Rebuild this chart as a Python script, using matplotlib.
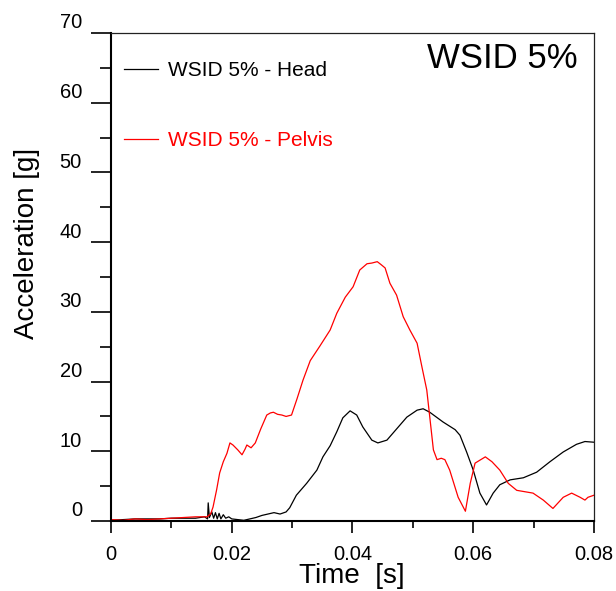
import matplotlib
matplotlib.use("Agg")
import matplotlib.pyplot as plt
from matplotlib.ticker import MultipleLocator
from matplotlib.transforms import ScaledTranslation

plt.rcParams['font.family'] = ['Liberation Sans', 'DejaVu Sans']

# head acceleration trace
head_t = [0, 0.002, 0.004, 0.006, 0.008, 0.010, 0.012, 0.014, 0.0155, 0.016,
          0.0161, 0.0163, 0.0167, 0.0170, 0.0173, 0.0176, 0.0179, 0.0182, 0.0186, 0.019,
          0.0195, 0.020, 0.021, 0.022, 0.023, 0.024, 0.025, 0.026, 0.027, 0.028,
          0.029, 0.0296, 0.0307, 0.0324, 0.0341, 0.0351, 0.0363, 0.0374, 0.0384, 0.0396,
          0.0407, 0.0417, 0.0432, 0.0442, 0.0457, 0.0474, 0.049, 0.0507, 0.0517, 0.0528,
          0.055, 0.057, 0.0578, 0.0589, 0.06, 0.0611, 0.0622, 0.0633, 0.0644, 0.0661,
          0.0683, 0.0705, 0.0727, 0.0749, 0.0771, 0.0785, 0.08]
head_g = [0.1, 0.2, 0.3, 0.3, 0.3, 0.4, 0.4, 0.4, 0.6, 0.3,
          2.6, 0.5, 1.3, 0.4, 1.2, 0.3, 1.1, 0.3, 0.9, 0.4,
          0.6, 0.3, 0.2, 0.1, 0.3, 0.5, 0.8, 1.0, 1.2, 1.0,
          1.3, 1.9, 3.7, 5.4, 7.3, 9.2, 10.8, 12.8, 14.8, 15.8,
          15.2, 13.5, 11.6, 11.2, 11.6, 13.3, 14.9, 15.9, 16.1, 15.6,
          14.2, 13.1, 12.3, 9.9, 7.3, 4.0, 2.3, 4.0, 5.2, 5.9,
          6.2, 7.0, 8.5, 9.9, 11.0, 11.4, 11.3]

# pelvis acceleration trace
pelvis_t = [0, 0.002, 0.004, 0.006, 0.008, 0.010, 0.012, 0.014, 0.0159, 0.0165,
            0.0169, 0.0175, 0.018, 0.0186, 0.0192, 0.0197, 0.0202, 0.021, 0.0217, 0.0222,
            0.0225, 0.0232, 0.0239, 0.0248, 0.0258, 0.0264, 0.0269, 0.0276, 0.0283, 0.029,
            0.0299, 0.0308, 0.0318, 0.033, 0.0346, 0.0363, 0.0374, 0.0388, 0.0401, 0.0412,
            0.0424, 0.0432, 0.0441, 0.0447, 0.0454, 0.0462, 0.0473, 0.0484, 0.0495, 0.0507,
            0.0515, 0.0523, 0.0528, 0.0534, 0.054, 0.0547, 0.0553, 0.0561, 0.0575, 0.0587,
            0.0595, 0.0603, 0.062, 0.0631, 0.0644, 0.0658, 0.0672, 0.0699, 0.0716, 0.0732,
            0.0749, 0.0763, 0.0777, 0.0785, 0.079, 0.08]
pelvis_g = [0.2, 0.1, 0.3, 0.2, 0.3, 0.4, 0.5, 0.6, 0.6, 1.0,
            2.0, 4.5, 6.9, 8.5, 9.7, 11.2, 10.9, 10.2, 9.5, 10.3,
            10.9, 10.5, 11.2, 13.2, 15.2, 15.5, 15.6, 15.3, 15.2, 15.0,
            15.2, 17.5, 20.2, 23.0, 25.1, 27.4, 29.8, 32.1, 33.6, 36.0,
            36.9, 37.0, 37.2, 36.8, 36.3, 34.1, 32.4, 29.3, 27.4, 25.5,
            22.1, 18.8, 14.9, 10.2, 8.8, 9.0, 8.8, 7.3, 3.4, 1.4,
            5.4, 8.3, 9.2, 8.5, 7.3, 5.4, 4.4, 4.0, 3.0, 1.8,
            3.4, 4.0, 3.4, 3.0, 3.4, 3.7]

x_ticks = [0, 0.02, 0.04, 0.06, 0.08]
x_labels = ['0', '0.02', '0.04', '0.06', '0.08']
y_ticks = [0, 10, 20, 30, 40, 50, 60, 70]

W, H = 616, 591
fig = plt.figure(figsize=(W / 100, H / 100), dpi=100)
ax = fig.add_axes([111 / W, 1 - 521 / H, (594 - 111) / W, (521 - 33) / H])

ax.plot(head_t, head_g, color='black', lw=0.9, label='WSID 5% - Head')
ax.plot(pelvis_t, pelvis_g, color='red', lw=0.9, label='WSID 5% - Pelvis')

ax.set_xlim(0, 0.08)
ax.set_ylim(0, 70)
ax.set_xticks(x_ticks)
ax.set_xticklabels(x_labels)
ax.set_yticks(y_ticks)
ax.xaxis.set_minor_locator(MultipleLocator(0.01))
ax.yaxis.set_minor_locator(MultipleLocator(5))

ax.tick_params(axis='y', which='major', direction='out', length=14.4, width=1.2,
               pad=6.5, labelsize=14.5)
ax.tick_params(axis='y', which='minor', direction='out', length=7.9, width=1.2)
ax.tick_params(axis='x', which='major', direction='out', length=8.6, width=1.2,
               pad=8.6, labelsize=14.5)
ax.tick_params(axis='x', which='minor', direction='out', length=5, width=1.2)

# y tick labels sit above their ticks
shift = ScaledTranslation(0, 0.12, fig.dpi_scale_trans)
for lab in ax.get_yticklabels():
    lab.set_transform(lab.get_transform() + shift)

for side in ['left', 'bottom']:
    ax.spines[side].set_linewidth(1.5)
for side in ['top', 'right']:
    ax.spines[side].set_linewidth(0.9)
    ax.spines[side].set_color('#222222')

leg = ax.legend(loc='upper left', bbox_to_anchor=(13 / 483, 1 - 28 / 488), frameon=False,
                fontsize=15, handlelength=1.63, handletextpad=0.48, labelspacing=2.45,
                borderpad=0, borderaxespad=0)
for txt, c in zip(leg.get_texts(), ['black', 'red']):
    txt.set_color(c)

fig.text(578 / W, 1 - 68 / H, 'WSID 5%', ha='right', va='baseline', fontsize=25)
fig.text(352 / W, 1 - 583 / H, 'Time  [s]', ha='center', va='baseline', fontsize=20)
fig.text(27 / W, 1 - 243 / H, 'Acceleration [g]', ha='center', va='center',
         rotation=90, fontsize=20)

fig.savefig('out.png', dpi=100)
